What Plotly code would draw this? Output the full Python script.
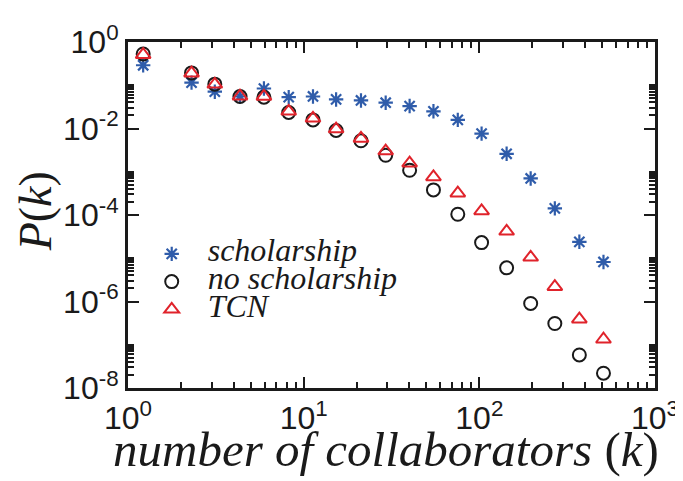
import plotly.graph_objects as go

# degree distribution
k = [1.22, 2.30, 3.12, 4.34, 5.94, 8.22, 11.3, 15.3, 21.2, 29.3,
     40.1, 54.8, 75.4, 103, 143, 196, 269, 371, 509]

scholarship = [0.29, 0.115, 0.071, 0.055, 0.084, 0.053, 0.055, 0.047, 0.0445, 0.0395,
               0.033, 0.025, 0.0158, 0.0076, 0.0026, 7.0e-4, 1.42e-4, 2.4e-5, 8.2e-6]
no_scholarship = [0.53, 0.193, 0.106, 0.055, 0.053, 0.0235, 0.0158, 0.0090, 0.0052, 0.0024,
                  1.08e-3, 3.8e-4, 1.04e-4, 2.3e-5, 6.0e-6, 9.0e-7, 3.1e-7, 5.8e-8, 2.2e-8]
tcn = [0.51, 0.19, 0.105, 0.056, 0.055, 0.025, 0.0172, 0.0097, 0.0059, 0.0030,
       1.58e-3, 7.6e-4, 3.2e-4, 1.24e-4, 4.2e-5, 1.05e-5, 2.2e-6, 3.9e-7, 1.34e-7]

x_ticks = [1, 10, 100, 1000]
x_ticktext = ['10<sup>0</sup>', '10<sup>1</sup>', '10<sup>2</sup>', '10<sup>3</sup>']
y_ticks = [1e0, 1e-2, 1e-4, 1e-6, 1e-8]
y_ticktext = ['10<sup>0</sup>', '10<sup>-2</sup>', '10<sup>-4</sup>', '10<sup>-6</sup>', '10<sup>-8</sup>']

# minor ticks: every decade on x, only the decade above each labelled tick on y
x_minor = [m * 10 ** e for e in range(3) for m in range(2, 10)]
y_minor = [m * 10.0 ** e for e in (-2, -4, -6, -8) for m in range(2, 11)]

blue = '#2f5caa'
red = '#e0232b'
ink = '#1a1a1a'


def legend_name(txt):
    return '<span style="font-size:32px">&nbsp;&nbsp;<i>' + txt + '</i></span>'


fig = go.Figure()
fig.add_trace(go.Scatter(
    x=k, y=scholarship, mode='markers', name=legend_name('scholarship'),
    marker=dict(symbol='asterisk-open', size=12, color=blue, line=dict(color=blue, width=2.2))
))
fig.add_trace(go.Scatter(
    x=k, y=no_scholarship, mode='markers', name=legend_name('no scholarship'),
    marker=dict(symbol='circle-open', size=13, color=ink, line=dict(color=ink, width=2))
))
fig.add_trace(go.Scatter(
    x=k, y=tcn, mode='markers', name=legend_name('TCN'),
    marker=dict(symbol='triangle-up-open', size=13, color=red, line=dict(color=red, width=2))
))

axis_common = dict(
    type='log', showgrid=False, zeroline=False,
    showline=True, linewidth=3, linecolor=ink, mirror='ticks',
    ticks='inside', ticklen=11, tickwidth=2, tickcolor=ink,
    tickmode='array',
    tickfont=dict(family='Liberation Sans', size=32, color=ink),
)

fig.update_xaxes(
    **axis_common, range=[0, 3],
    tickvals=x_ticks, ticktext=x_ticktext,
    minor=dict(tickmode='array', tickvals=x_minor, ticks='inside', ticklen=6,
               tickwidth=1.5, tickcolor=ink),
)
fig.update_yaxes(
    **axis_common, range=[-8, 0],
    tickvals=y_ticks, ticktext=y_ticktext,
    minor=dict(tickmode='array', tickvals=y_minor, ticks='inside', ticklen=6,
               tickwidth=1.5, tickcolor=ink),
)

# axis titles
fig.add_annotation(text='<i>number of collaborators </i>(<i>k</i>)',
                   xref='paper', yref='paper', x=0.49, y=-0.262,
                   xanchor='center', yanchor='bottom', showarrow=False,
                   font=dict(family='Liberation Serif', size=49, color=ink))
fig.add_annotation(text='<i>P</i>(<i>k</i>)', textangle=-90,
                   xref='paper', yref='paper', x=-0.175, y=0.51,
                   xanchor='center', yanchor='middle', showarrow=False,
                   font=dict(family='Liberation Serif', size=46, color=ink))

fig.update_layout(
    width=683, height=481,
    margin=dict(l=120, r=33, t=25, b=101),
    plot_bgcolor='white', paper_bgcolor='white',
    font=dict(family='Liberation Serif'),
    legend=dict(x=0.045, y=0.442, xanchor='left', yanchor='top',
                bgcolor='rgba(0,0,0,0)', borderwidth=0,
                font=dict(family='Liberation Serif', size=19, color=ink)),
)

fig.write_html("out.html")
